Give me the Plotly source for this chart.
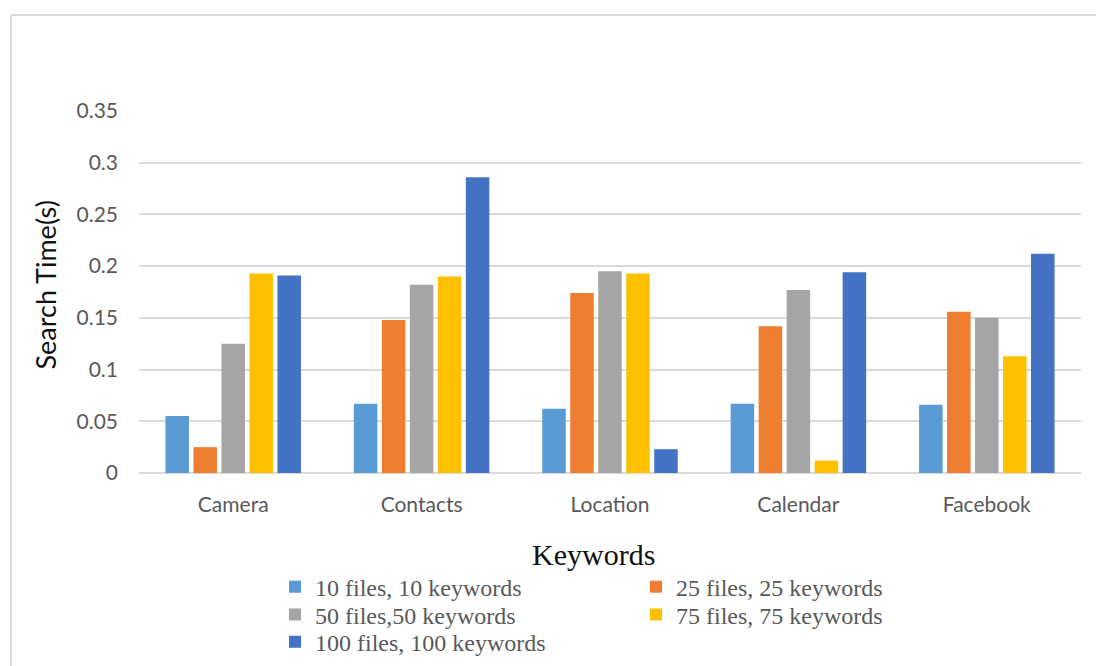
import plotly.graph_objects as go

# Keyword categories on the x axis
keywords = ["Camera", "Contacts", "Location", "Calendar", "Facebook"]

# Search time (seconds) for each test configuration
series_names = [
    "10 files, 10 keywords",
    "25 files, 25 keywords",
    "50 files,50 keywords",
    "75 files, 75 keywords",
    "100 files, 100 keywords",
]
t_10 = [0.055, 0.067, 0.062, 0.067, 0.066]
t_25 = [0.025, 0.148, 0.174, 0.142, 0.156]
t_50 = [0.125, 0.182, 0.195, 0.177, 0.150]
t_75 = [0.193, 0.190, 0.193, 0.012, 0.113]
t_100 = [0.191, 0.286, 0.023, 0.194, 0.212]

y_ticks = [0, 0.05, 0.1, 0.15, 0.2, 0.25, 0.3, 0.35]
y_tick_text = ["0", "0.05", "0.1", "0.15", "0.2", "0.25", "0.3", "0.35"]

colors = ["#5B9BD5", "#ED7D31", "#A5A5A5", "#FFC000", "#4472C4"]

# One legend box per entry so the two-column grid can be placed freely
legend_ids = ["legend", "legend2", "legend3", "legend4", "legend5"]
legend_x = [0.1444, 0.5276, 0.1444, 0.5276, 0.1444]
legend_y = [-0.315, -0.315, -0.392, -0.392, -0.467]

sans = "Lato, 'Open Sans', sans-serif"
serif = "'Liberation Serif', 'Times New Roman', serif"

fig = go.Figure()
for name, vals, col, lg in zip(series_names, [t_10, t_25, t_50, t_75, t_100], colors, legend_ids):
    fig.add_trace(go.Bar(
        x=keywords, y=vals, name=name, legend=lg,
        marker=dict(color=col, line=dict(width=0)),
    ))

legend_layout = {}
for lg, lx, ly in zip(legend_ids, legend_x, legend_y):
    legend_layout[lg] = dict(
        x=lx, y=ly, orientation="v", xanchor="left", yanchor="middle",
        font=dict(family=serif, size=24, color="#595959"),
        bgcolor="rgba(0,0,0,0)", itemwidth=30,
    )

fig.update_layout(
    width=1096, height=666,
    margin=dict(l=139, r=15, t=111, b=193, autoexpand=False),
    paper_bgcolor="white", plot_bgcolor="white",
    barmode="group", bargap=0.257, bargroupgap=0.16,
    showlegend=True,
    **legend_layout,
    xaxis=dict(
        showgrid=False, showline=False, zeroline=False, ticks="",
        tickfont=dict(family=sans, size=21, color="#595959"),
        ticklabelstandoff=17,
    ),
    yaxis=dict(
        range=[0, 0.35], tickvals=y_ticks, ticktext=y_tick_text,
        showgrid=True, gridcolor="#D9D9D9", gridwidth=1.5,
        zeroline=True, zerolinecolor="#D9D9D9", zerolinewidth=1.5,
        showline=False, ticks="",
        tickfont=dict(family=sans, size=21, color="#595959"),
        ticklabelstandoff=20,
    ),
    annotations=[
        dict(text="Keywords", xref="paper", yref="paper", x=0.483, y=-0.226,
             xanchor="center", yanchor="middle", showarrow=False,
             font=dict(family=serif, size=30, color="#111111")),
        dict(text="Search Time(s)", xref="paper", yref="paper", x=-0.099, y=0.52,
             xanchor="center", yanchor="middle", textangle=-90, showarrow=False,
             font=dict(family=sans, size=27, color="#111111")),
    ],
    shapes=[
        # outer chart frame (left and top edges visible)
        dict(type="line", xref="paper", yref="paper", x0=-0.1359, x1=-0.1359,
             y0=1.265, y1=-0.56, line=dict(color="#D9D9D9", width=2)),
        dict(type="line", xref="paper", yref="paper", x0=-0.1359, x1=1.03,
             y0=1.265, y1=1.265, line=dict(color="#D9D9D9", width=2)),
    ],
)

fig.write_html("out.html")
